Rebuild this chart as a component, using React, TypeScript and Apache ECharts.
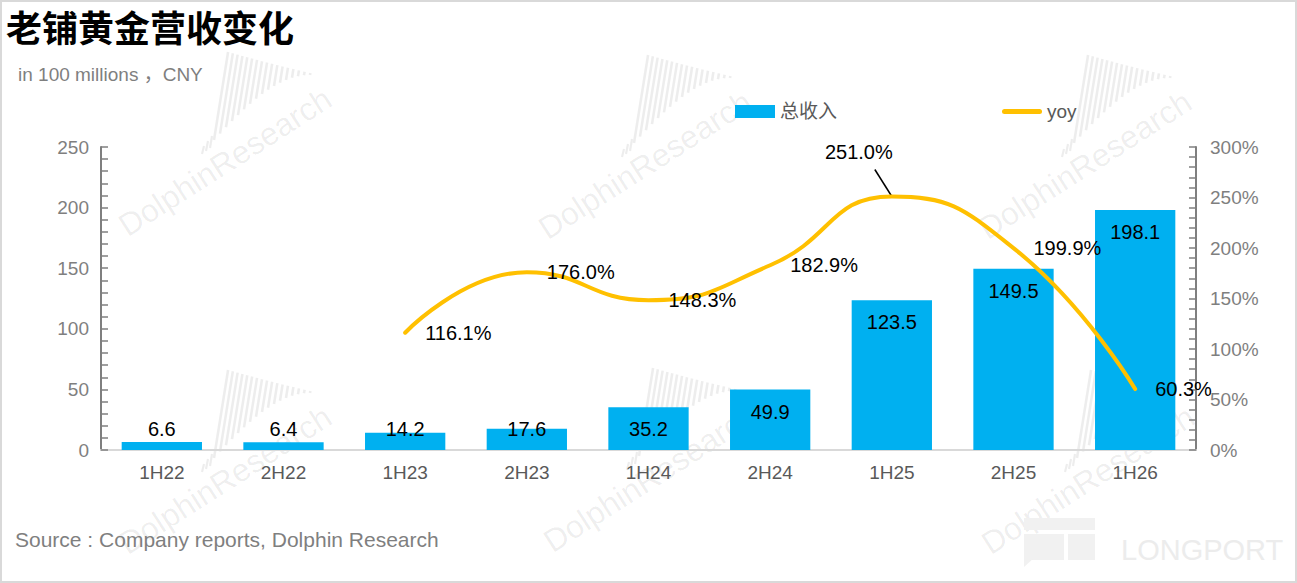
import React, { useEffect, useRef } from "react";
import * as echarts from "echarts";

const categories = ["1H22", "2H22", "1H23", "2H23", "1H24", "2H24", "1H25", "2H25", "1H26"];
const revenue = [6.6, 6.4, 14.2, 17.6, 35.2, 49.9, 123.5, 149.5, 198.1];
const yoy = [null, null, 116.1, 176.0, 148.3, 182.9, 251.0, 199.9, 60.3];
const leftTicks = { min: 0, max: 250, interval: 50 };
const rightTicks = { min: 0, max: 300, interval: 50 };
const calloutIndex = 6;

const TITLE = "老铺黄金营收变化";
const UNIT = "in 100 millions ，CNY";
const SOURCE = "Source : Company reports, Dolphin Research";

const FONT = "'Liberation Sans', Arial, 'Noto Sans CJK SC', sans-serif";
const WM = "rgba(0,0,0,0.07)";

function watermark(cx: number, cy: number): any[] {
  const lines: any[] = [];
  const n = 17;
  for (let i = 0; i < n; i++) {
    const t = i / (n - 1);
    const bottom = -65 * Math.sin((t * Math.PI) / 2);
    const top = -88 + 21 * t;
    const h = bottom - top;
    lines.push({
      type: "line",
      shape: { x1: 6 + i * 6, y1: bottom, x2: 6 + i * 6 + h * 0.16, y2: top },
      style: { stroke: WM, lineWidth: 2.6 },
      silent: true,
    });
  }
  for (let k = 0; k < 3; k++) {
    lines.push({
      type: "line",
      shape: { x1: -6 + k * 4, y1: 14 - k * 3, x2: -4 + k * 4, y2: 6 - k * 5 },
      style: { stroke: WM, lineWidth: 2.2 },
      silent: true,
    });
  }
  return [
    { type: "group", x: cx - 17, y: cy - 22, children: lines, silent: true },
    {
      type: "text",
      x: cx,
      y: cy,
      rotation: 0.57,
      style: {
        text: "DolphinResearch",
        fill: WM,
        font: `32px ${FONT}`,
        align: "center",
        verticalAlign: "middle",
      },
      silent: true,
    },
  ];
}

export default function App() {
  const ref = useRef<HTMLDivElement>(null);
  useEffect(() => {
    if (!ref.current) return;
    const chart = echarts.init(ref.current, undefined, { renderer: "svg" });
    const graphics: any[] = [
      {
        type: "rect",
        shape: { x: 1, y: 1, width: 1295, height: 581 },
        style: { fill: "none", stroke: "#d9d9d9", lineWidth: 2 },
        silent: true,
        z: -10,
      },
      ...watermark(225, 162),
      ...watermark(645, 165),
      ...watermark(1085, 165),
      ...watermark(225, 480),
      ...watermark(650, 478),
      ...watermark(1088, 480),
      { type: "rect", shape: { x: 1024, y: 518, width: 71, height: 12 }, style: { fill: "#f1f1f1" }, silent: true },
      { type: "rect", shape: { x: 1024, y: 534, width: 40, height: 26 }, style: { fill: "#f1f1f1" }, silent: true },
      { type: "rect", shape: { x: 1068, y: 534, width: 27, height: 26 }, style: { fill: "#f1f1f1" }, silent: true },
      { type: "polygon", shape: { points: [[1024, 558], [1034, 558], [1024, 567]] }, style: { fill: "#f1f1f1" }, silent: true },
      {
        type: "text",
        x: 1121,
        y: 550,
        style: { text: "LONGPORT", fill: "#ececec", font: `29px ${FONT}`, verticalAlign: "middle" },
        silent: true,
      },
      {
        type: "text",
        x: 6,
        y: 26,
        style: {
          text: TITLE,
          fill: "#000",
          font: `bold 36px 'Noto Sans CJK SC', sans-serif`,
          verticalAlign: "middle",
        },
      },
      {
        type: "text",
        x: 18,
        y: 74,
        style: { text: UNIT, fill: "#7f7f7f", font: `19px ${FONT}`, verticalAlign: "middle" },
      },
      {
        type: "text",
        x: 15,
        y: 539,
        style: { text: SOURCE, fill: "#7f7f7f", font: `21px ${FONT}`, verticalAlign: "middle" },
      },
    ];

    const axisGray = "#7f7f7f";
    chart.setOption({
      animation: false,
      textStyle: { fontFamily: FONT },
      graphic: graphics,
      legend: {
        left: 735,
        top: 102,
        padding: 0,
        itemWidth: 40,
        itemHeight: 13,
        itemGap: 165,
        textStyle: { fontSize: 19, color: "#595959", fontFamily: FONT },
        data: [
          { name: "总收入", icon: "rect" },
          {
            name: "yoy",
            icon: "path://M2.5 0H37.5A2.5 2.5 0 0 1 37.5 5H2.5A2.5 2.5 0 0 1 2.5 0Z",
            itemStyle: { color: "#FFC000", opacity: 1 },
          },
        ],
      },
      grid: { left: 101, right: 101, top: 147, bottom: 133, containLabel: false },
      xAxis: {
        type: "category",
        data: categories,
        axisLine: { lineStyle: { color: "#d9d9d9", width: 2 } },
        axisTick: { show: false },
        axisLabel: { color: "#595959", fontSize: 19, margin: 13 },
      },
      yAxis: [
        {
          type: "value",
          min: leftTicks.min,
          max: leftTicks.max,
          interval: leftTicks.interval,
          axisLine: { show: true, lineStyle: { color: axisGray, width: 2 } },
          axisTick: { show: true, inside: true, length: 7, lineStyle: { color: axisGray, width: 1.5 } },
          minorTick: { show: true, splitNumber: 5, length: 7, lineStyle: { color: axisGray, width: 1.5 } },
          splitLine: { show: false },
          axisLabel: { color: axisGray, fontSize: 19, margin: 12 },
        },
        {
          type: "value",
          min: rightTicks.min,
          max: rightTicks.max,
          interval: rightTicks.interval,
          axisLine: { show: true, lineStyle: { color: axisGray, width: 2 } },
          axisTick: { show: true, inside: true, length: 7, lineStyle: { color: axisGray, width: 1.5 } },
          minorTick: { show: true, splitNumber: 5, length: 7, lineStyle: { color: axisGray, width: 1.5 } },
          splitLine: { show: false },
          axisLabel: { color: axisGray, fontSize: 19, margin: 14, formatter: "{value}%" },
        },
      ],
      series: [
        {
          name: "总收入",
          type: "bar",
          barWidth: "66%",
          itemStyle: { color: "#00B0F0" },
          data: revenue.map((v) => ({
            value: v,
            label: v < 25
              ? { position: "insideBottom", distance: 11 }
              : { position: "insideTop", distance: 12 },
          })),
          label: {
            show: true,
            color: "#000",
            fontSize: 20,
            formatter: (p: any) => p.value.toFixed(1),
          },
          z: 2,
        },
        {
          name: "yoy",
          type: "line",
          yAxisIndex: 1,
          smooth: 0.5,
          symbol: "circle",
          symbolSize: 0,
          showSymbol: true,
          connectNulls: false,
          lineStyle: { color: "#FFC000", width: 4, cap: "round" },
          itemStyle: { color: "#FFC000" },
          data: yoy.map((v, i) =>
            v === null ? null : i === calloutIndex ? { value: v, label: { position: "top", distance: 5 } } : { value: v }
          ),
          label: {
            show: true,
            position: "right",
            distance: 20,
            color: "#000",
            fontSize: 20,
            formatter: (p: any) => p.value.toFixed(1) + "%",
          },
          labelLayout: (p: any) => (p.dataIndex === calloutIndex ? { dx: -33, dy: -30 } : {}),
          z: 5,
        },
        {
          name: "callout",
          type: "custom",
          yAxisIndex: 1,
          silent: true,
          z: 4,
          data: [[calloutIndex, yoy[calloutIndex]]],
          renderItem: (params: any, api: any) => {
            const p = api.coord([api.value(0), api.value(1)]);
            return {
              type: "line",
              shape: { x1: p[0] - 17, y1: p[1] - 27, x2: p[0], y2: p[1] },
              style: { stroke: "#000", lineWidth: 1.5 },
            };
          },
        },
      ],
    });
    return () => chart.dispose();
  }, []);
  return (
    <div
      ref={ref}
      style={{ position: "fixed", left: 0, top: 0, width: 1297, height: 583, background: "#fff" }}
    />
  );
}
